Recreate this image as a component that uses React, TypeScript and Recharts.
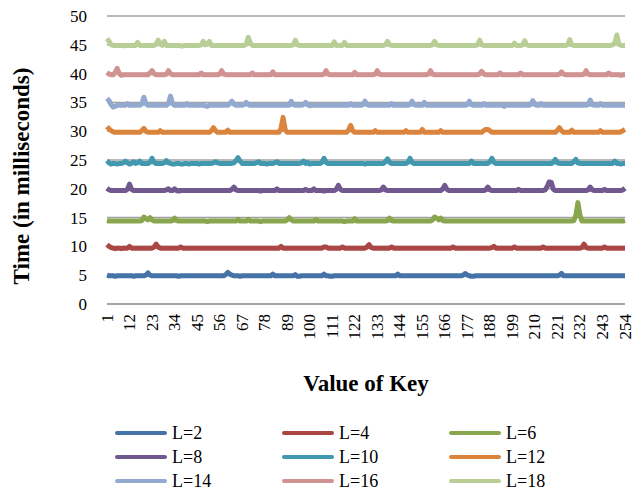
import { CartesianGrid, Label, Line, LineChart, XAxis, YAxis } from "recharts";

// x categories: value of key, 1..254
const KEYS: number[] = Array.from({ length: 254 }, (_, i) => i + 1);

const SERIES_NAMES = ["L=2", "L=4", "L=6", "L=8", "L=10", "L=12", "L=14", "L=16", "L=18"];

// 10 values per row (key 1-10, 11-20, ...)
const L2 = [
  5.0, 4.9, 4.9, 4.9, 4.8, 4.9, 4.9, 4.9, 4.9, 4.9,
  4.9, 4.9, 4.9, 4.8, 4.9, 4.9, 4.9, 4.9, 4.9, 5.0,
  5.4, 5.0, 4.9, 4.9, 4.9, 4.9, 4.9, 4.9, 4.9, 4.9,
  4.9, 4.9, 4.9, 4.9, 4.9, 4.8, 4.9, 4.9, 4.9, 4.9,
  4.9, 4.9, 4.9, 4.9, 4.9, 4.9, 4.9, 4.9, 4.9, 4.9,
  4.9, 4.9, 4.9, 4.9, 4.9, 4.9, 4.9, 4.9, 5.1, 5.5,
  5.2, 5.0, 4.9, 4.9, 4.9, 4.8, 4.9, 4.9, 4.9, 4.9,
  4.9, 4.9, 4.9, 4.9, 4.9, 4.9, 4.9, 4.9, 4.9, 4.9,
  4.9, 5.2, 4.9, 4.9, 4.9, 4.9, 4.9, 4.9, 4.9, 4.9,
  4.9, 4.9, 5.1, 4.8, 4.8, 4.9, 4.9, 4.9, 4.9, 4.9,
  4.9, 4.9, 4.9, 4.9, 4.9, 4.9, 5.2, 4.9, 4.9, 4.8,
  4.8, 4.9, 4.9, 4.9, 4.9, 4.9, 4.9, 4.9, 4.9, 4.9,
  4.9, 4.9, 4.9, 4.9, 4.9, 4.9, 4.9, 4.9, 4.9, 4.9,
  4.9, 4.9, 4.9, 4.9, 4.9, 4.9, 4.9, 4.9, 4.9, 4.9,
  4.9, 4.9, 5.2, 4.9, 4.9, 4.9, 4.9, 4.9, 4.9, 4.9,
  4.9, 4.9, 4.9, 4.9, 4.9, 4.9, 4.9, 4.9, 4.9, 4.9,
  4.9, 4.9, 4.9, 4.9, 4.9, 4.9, 4.9, 4.9, 4.9, 4.9,
  4.9, 4.9, 4.9, 4.9, 5.0, 5.3, 5.0, 4.9, 4.8, 4.8,
  4.9, 4.9, 4.9, 4.9, 4.9, 4.9, 4.9, 4.9, 4.9, 4.9,
  4.9, 4.9, 4.9, 4.9, 4.9, 4.9, 4.9, 4.9, 4.9, 4.9,
  4.9, 4.9, 4.9, 4.9, 4.9, 4.9, 4.9, 4.9, 4.9, 4.9,
  4.9, 4.9, 4.9, 4.9, 4.9, 4.9, 4.9, 4.9, 4.9, 4.9,
  4.9, 5.0, 5.3, 4.9, 4.9, 4.9, 4.9, 4.9, 4.9, 4.9,
  4.9, 4.9, 4.9, 4.9, 4.9, 4.9, 4.9, 4.9, 4.9, 4.9,
  4.9, 4.9, 4.9, 4.9, 4.9, 4.9, 4.9, 4.9, 4.9, 4.9,
  4.9, 4.9, 4.9, 4.9,
];

const L4 = [
  10.3, 10.0, 9.8, 9.7, 9.6, 9.7, 9.7, 9.6, 9.7, 9.7,
  9.7, 10.0, 9.7, 9.7, 9.7, 9.7, 9.7, 9.7, 9.7, 9.7,
  9.7, 9.7, 9.7, 9.9, 10.4, 9.9, 9.7, 9.7, 9.7, 9.7,
  9.7, 9.7, 9.7, 9.7, 9.7, 9.7, 9.9, 9.7, 9.7, 9.7,
  9.7, 9.7, 9.7, 9.7, 9.7, 9.7, 9.7, 9.7, 9.7, 9.7,
  9.7, 9.7, 9.7, 9.7, 9.7, 9.7, 9.7, 9.7, 9.7, 9.7,
  9.7, 9.7, 9.7, 9.7, 9.7, 9.7, 9.7, 9.7, 9.7, 9.7,
  9.7, 9.7, 9.7, 9.7, 9.7, 9.7, 9.7, 9.7, 9.7, 9.7,
  9.7, 9.7, 9.7, 9.7, 9.7, 10.0, 9.7, 9.7, 9.7, 9.7,
  9.7, 9.7, 9.7, 9.7, 9.7, 9.7, 9.7, 9.7, 9.7, 9.7,
  9.7, 9.7, 9.7, 9.7, 9.7, 9.7, 9.9, 9.9, 9.7, 9.7,
  9.7, 9.7, 9.7, 9.7, 9.7, 9.9, 9.7, 9.7, 9.7, 9.7,
  9.7, 9.7, 9.7, 9.7, 9.7, 9.7, 9.7, 9.9, 10.3, 9.8,
  9.7, 9.7, 9.7, 9.7, 9.7, 9.7, 9.7, 9.7, 9.7, 9.9,
  9.7, 9.7, 9.7, 9.7, 9.7, 9.7, 9.7, 9.7, 9.7, 9.7,
  9.7, 9.7, 9.7, 9.7, 9.7, 9.7, 9.7, 9.7, 9.7, 9.7,
  9.7, 9.7, 9.7, 9.7, 9.7, 9.7, 9.7, 9.7, 9.7, 9.9,
  9.7, 9.7, 9.7, 9.7, 9.7, 9.7, 9.7, 9.7, 9.7, 9.7,
  9.7, 9.7, 9.7, 9.7, 9.7, 9.7, 9.7, 9.7, 9.8, 10.0,
  9.7, 9.7, 9.7, 9.7, 9.7, 9.7, 9.7, 9.7, 9.7, 9.9,
  9.7, 9.7, 9.7, 9.7, 9.7, 9.7, 9.7, 9.7, 9.7, 9.7,
  9.7, 9.7, 9.7, 9.9, 9.7, 9.7, 9.7, 9.7, 9.7, 9.7,
  9.7, 9.7, 9.7, 9.7, 9.7, 9.7, 9.7, 9.7, 9.7, 9.7,
  9.7, 9.7, 9.8, 10.4, 9.8, 9.7, 9.7, 9.7, 9.7, 9.7,
  9.7, 9.7, 9.7, 9.9, 9.7, 9.7, 9.7, 9.7, 9.7, 9.7,
  9.7, 9.7, 9.7, 9.7,
];

const L6 = [
  14.5, 14.4, 14.4, 14.4, 14.4, 14.4, 14.4, 14.4, 14.4, 14.4,
  14.4, 14.4, 14.4, 14.4, 14.4, 14.4, 14.4, 14.5, 15.1, 14.8,
  14.6, 15.0, 14.6, 14.4, 14.4, 14.4, 14.4, 14.4, 14.4, 14.4,
  14.4, 14.4, 14.5, 14.9, 14.5, 14.4, 14.4, 14.4, 14.4, 14.4,
  14.4, 14.4, 14.4, 14.4, 14.4, 14.4, 14.4, 14.4, 14.4, 14.3,
  14.4, 14.4, 14.4, 14.4, 14.4, 14.4, 14.4, 14.4, 14.4, 14.4,
  14.4, 14.4, 14.4, 14.4, 14.7, 14.4, 14.4, 14.4, 14.4, 14.7,
  14.4, 14.4, 14.4, 14.4, 14.4, 14.3, 14.4, 14.4, 14.4, 14.4,
  14.4, 14.4, 14.4, 14.4, 14.4, 14.4, 14.4, 14.4, 14.6, 15.0,
  14.6, 14.4, 14.4, 14.4, 14.4, 14.4, 14.4, 14.4, 14.4, 14.4,
  14.4, 14.4, 14.7, 14.4, 14.4, 14.4, 14.4, 14.4, 14.4, 14.4,
  14.4, 14.4, 14.4, 14.4, 14.4, 14.4, 14.3, 14.4, 14.4, 14.4,
  14.4, 14.8, 14.4, 14.4, 14.4, 14.4, 14.4, 14.4, 14.4, 14.4,
  14.4, 14.4, 14.4, 14.4, 14.4, 14.4, 14.4, 14.5, 14.9, 14.5,
  14.4, 14.4, 14.4, 14.4, 14.4, 14.4, 14.4, 14.4, 14.4, 14.4,
  14.4, 14.4, 14.4, 14.4, 14.4, 14.4, 14.4, 14.4, 14.4, 14.6,
  15.1, 14.9, 14.6, 14.9, 14.5, 14.4, 14.4, 14.4, 14.4, 14.4,
  14.4, 14.4, 14.4, 14.4, 14.4, 14.4, 14.4, 14.4, 14.4, 14.4,
  14.4, 14.4, 14.4, 14.4, 14.4, 14.4, 14.4, 14.4, 14.4, 14.4,
  14.4, 14.4, 14.4, 14.4, 14.4, 14.4, 14.4, 14.4, 14.4, 14.4,
  14.4, 14.4, 14.4, 14.4, 14.4, 14.4, 14.4, 14.4, 14.4, 14.4,
  14.4, 14.4, 14.4, 14.4, 14.4, 14.4, 14.4, 14.4, 14.4, 14.4,
  14.4, 14.4, 14.4, 14.4, 14.4, 14.4, 14.4, 14.4, 14.5, 15.4,
  17.6, 15.4, 14.4, 14.4, 14.4, 14.4, 14.4, 14.4, 14.4, 14.4,
  14.4, 14.4, 14.4, 14.4, 14.4, 14.4, 14.4, 14.4, 14.4, 14.4,
  14.4, 14.4, 14.4, 14.5,
];

const L8 = [
  20.1, 19.8, 19.7, 19.7, 19.7, 19.7, 19.7, 19.7, 19.7, 19.7,
  19.9, 20.8, 19.9, 19.7, 19.7, 19.7, 19.7, 19.7, 19.7, 19.7,
  19.7, 19.7, 19.7, 19.7, 19.7, 19.7, 19.7, 19.7, 19.7, 19.8,
  20.0, 19.7, 19.7, 20.0, 19.7, 19.6, 19.7, 19.7, 19.7, 19.7,
  19.7, 19.7, 19.7, 19.7, 19.7, 19.7, 19.7, 19.7, 19.7, 19.7,
  19.7, 19.7, 19.7, 19.7, 19.7, 19.7, 19.7, 19.7, 19.7, 19.7,
  19.7, 19.9, 20.3, 19.8, 19.7, 19.7, 19.7, 19.7, 19.7, 19.7,
  19.7, 19.7, 19.7, 19.7, 19.7, 19.6, 19.7, 19.7, 19.7, 19.7,
  19.7, 19.7, 19.7, 20.0, 19.7, 19.7, 19.7, 19.7, 19.7, 19.7,
  19.7, 19.7, 19.7, 19.7, 19.7, 19.7, 19.7, 19.9, 19.7, 19.7,
  19.7, 20.0, 19.7, 19.7, 19.7, 19.7, 19.6, 19.7, 19.7, 19.7,
  19.7, 19.7, 19.9, 20.6, 19.9, 19.7, 19.7, 19.7, 19.7, 19.7,
  19.7, 19.7, 19.7, 19.7, 19.7, 19.7, 19.7, 19.7, 19.7, 19.7,
  19.7, 19.7, 19.7, 19.7, 19.8, 20.3, 19.8, 19.7, 19.7, 19.7,
  19.7, 19.7, 19.7, 19.7, 19.7, 19.7, 19.7, 19.7, 19.7, 19.7,
  19.7, 19.7, 19.7, 19.7, 19.7, 19.7, 19.7, 19.7, 19.7, 19.7,
  19.7, 19.7, 19.7, 19.7, 20.0, 20.6, 19.9, 19.7, 19.7, 19.7,
  19.7, 19.7, 19.7, 19.7, 19.7, 19.7, 19.7, 19.7, 19.7, 19.7,
  19.7, 19.7, 19.7, 19.7, 19.7, 19.8, 20.3, 19.8, 19.7, 19.7,
  19.7, 19.7, 19.7, 19.7, 19.7, 19.7, 19.7, 19.7, 19.7, 19.7,
  19.7, 19.9, 19.7, 19.7, 19.7, 19.7, 19.7, 19.7, 19.7, 19.7,
  19.7, 19.7, 19.7, 19.7, 19.8, 20.4, 21.2, 21.1, 19.9, 19.7,
  19.7, 19.7, 19.7, 19.7, 19.7, 19.7, 19.7, 19.7, 19.7, 19.7,
  19.7, 19.7, 19.7, 19.7, 19.7, 19.8, 20.3, 19.8, 19.7, 19.7,
  19.7, 19.7, 19.7, 19.9, 19.7, 19.7, 19.7, 19.7, 19.7, 19.7,
  19.7, 19.7, 19.8, 20.1,
];

const L10 = [
  24.9, 24.5, 24.3, 24.4, 24.4, 24.3, 24.4, 24.4, 24.5, 24.8,
  24.5, 24.3, 24.4, 24.7, 24.4, 24.5, 24.8, 24.4, 24.4, 24.4,
  24.4, 24.6, 25.3, 24.6, 24.4, 24.4, 24.4, 24.4, 24.5, 24.9,
  24.5, 24.4, 24.3, 24.3, 24.4, 24.4, 24.3, 24.3, 24.4, 24.4,
  24.3, 24.4, 24.4, 24.4, 24.4, 24.3, 24.4, 24.4, 24.4, 24.4,
  24.4, 24.4, 24.5, 24.7, 24.5, 24.4, 24.4, 24.4, 24.4, 24.4,
  24.4, 24.4, 24.5, 24.9, 25.4, 24.8, 24.4, 24.4, 24.4, 24.4,
  24.4, 24.4, 24.4, 24.5, 24.7, 24.4, 24.4, 24.4, 24.3, 24.4,
  24.4, 24.4, 24.5, 24.7, 24.4, 24.4, 24.4, 24.4, 24.4, 24.4,
  24.4, 24.4, 24.4, 24.4, 24.4, 24.5, 24.8, 24.4, 24.6, 24.3,
  24.4, 24.4, 24.4, 24.4, 24.4, 24.6, 25.3, 24.6, 24.4, 24.4,
  24.4, 24.4, 24.4, 24.4, 24.4, 24.4, 24.4, 24.4, 24.4, 24.4,
  24.4, 24.4, 24.4, 24.4, 24.4, 24.4, 24.3, 24.4, 24.4, 24.4,
  24.4, 24.4, 24.4, 24.4, 24.4, 24.4, 24.7, 25.2, 24.6, 24.4,
  24.4, 24.4, 24.4, 24.4, 24.4, 24.4, 24.4, 24.6, 25.3, 24.6,
  24.4, 24.4, 24.4, 24.4, 24.4, 24.4, 24.4, 24.4, 24.4, 24.4,
  24.4, 24.4, 24.4, 24.4, 24.4, 24.4, 24.4, 24.4, 24.4, 24.4,
  24.4, 24.4, 24.4, 24.4, 24.4, 24.4, 24.4, 24.4, 24.8, 24.4,
  24.4, 24.4, 24.4, 24.4, 24.4, 24.4, 24.4, 24.7, 25.3, 24.6,
  24.4, 24.4, 24.4, 24.4, 24.4, 24.4, 24.4, 24.4, 24.4, 24.4,
  24.4, 24.4, 24.4, 24.4, 24.4, 24.4, 24.4, 24.4, 24.4, 24.4,
  24.4, 24.4, 24.4, 24.4, 24.4, 24.4, 24.4, 24.4, 24.6, 25.1,
  24.5, 24.4, 24.4, 24.4, 24.4, 24.4, 24.4, 24.4, 24.7, 25.1,
  24.5, 24.4, 24.4, 24.4, 24.4, 24.4, 24.4, 24.4, 24.4, 24.4,
  24.4, 24.4, 24.4, 24.4, 24.4, 24.4, 24.4, 24.4, 24.8, 24.4,
  24.4, 24.3, 24.4, 24.4,
];

const L12 = [
  30.8, 30.4, 30.1, 29.9, 29.8, 29.8, 29.8, 29.8, 29.8, 29.8,
  29.8, 29.8, 29.8, 29.8, 29.8, 29.8, 29.8, 30.1, 30.5, 30.0,
  29.8, 29.8, 29.8, 29.8, 29.8, 29.8, 30.1, 29.8, 29.8, 29.8,
  29.8, 29.8, 29.8, 29.8, 29.8, 29.8, 29.8, 29.8, 29.8, 29.8,
  29.8, 29.8, 29.8, 29.8, 29.8, 29.8, 29.8, 29.8, 29.8, 29.8,
  29.8, 30.1, 30.6, 30.1, 29.8, 29.8, 29.8, 29.8, 29.8, 30.2,
  29.8, 29.8, 29.8, 29.8, 29.8, 29.8, 29.8, 29.8, 29.8, 29.8,
  29.8, 29.8, 29.8, 29.8, 29.8, 29.8, 29.8, 29.8, 29.8, 29.8,
  29.8, 29.8, 29.8, 29.8, 29.8, 30.5, 32.4, 30.3, 29.8, 29.8,
  29.8, 29.8, 29.8, 29.8, 29.8, 29.8, 29.8, 29.8, 29.8, 29.8,
  29.8, 29.8, 29.8, 29.8, 29.8, 29.8, 29.8, 29.8, 29.8, 29.8,
  29.8, 29.8, 29.8, 29.8, 29.8, 29.8, 29.8, 29.8, 30.2, 31.0,
  30.1, 29.8, 29.8, 29.8, 29.8, 29.8, 29.8, 29.8, 29.8, 29.8,
  29.8, 30.1, 29.8, 29.8, 29.8, 29.8, 29.8, 29.8, 29.8, 29.8,
  29.8, 29.8, 29.8, 29.8, 29.8, 29.8, 30.1, 29.8, 29.8, 29.8,
  29.8, 29.8, 29.8, 29.8, 30.3, 29.8, 29.8, 29.8, 29.8, 29.8,
  29.8, 29.8, 29.8, 30.1, 29.8, 29.8, 29.8, 29.8, 29.8, 29.8,
  29.8, 29.8, 29.8, 29.8, 29.8, 29.8, 29.8, 29.8, 29.8, 29.8,
  29.8, 29.8, 29.8, 29.8, 30.1, 30.3, 30.3, 30.1, 29.8, 29.8,
  29.8, 29.8, 29.8, 29.8, 29.8, 29.8, 29.8, 29.8, 29.8, 29.8,
  29.8, 29.8, 29.8, 29.8, 29.8, 29.8, 29.8, 29.8, 29.8, 29.8,
  29.8, 29.8, 29.8, 29.8, 29.8, 29.8, 29.8, 29.8, 29.8, 29.8,
  30.2, 30.6, 30.1, 29.8, 29.8, 29.8, 29.8, 30.2, 29.8, 29.8,
  29.8, 29.8, 29.8, 29.8, 29.8, 29.8, 29.8, 29.8, 29.8, 29.8,
  29.8, 30.1, 29.8, 29.8, 29.8, 29.8, 29.8, 29.8, 29.8, 29.8,
  29.8, 29.9, 30.1, 30.3,
];

const L14 = [
  35.7, 35.3, 34.6, 34.2, 34.3, 34.5, 34.5, 34.5, 34.5, 34.5,
  34.8, 34.5, 34.5, 34.5, 34.5, 34.5, 34.5, 34.7, 35.9, 34.8,
  34.5, 34.5, 34.5, 34.5, 34.5, 34.5, 34.5, 34.5, 34.5, 34.5,
  34.8, 36.1, 34.8, 34.5, 34.5, 34.5, 34.5, 34.5, 34.5, 34.8,
  34.5, 34.5, 34.5, 34.5, 34.5, 34.5, 34.5, 34.5, 34.4, 34.3,
  34.5, 34.5, 34.5, 34.5, 34.5, 34.5, 34.5, 34.5, 34.5, 34.5,
  34.8, 35.2, 34.7, 34.5, 34.5, 34.5, 34.5, 34.6, 35.0, 34.6,
  34.5, 34.5, 34.5, 34.5, 34.5, 34.5, 34.5, 34.5, 34.5, 34.5,
  34.5, 34.5, 34.5, 34.5, 34.5, 34.5, 34.5, 34.5, 34.5, 34.5,
  35.2, 34.6, 34.5, 34.5, 34.5, 34.5, 34.6, 35.0, 34.6, 34.4,
  34.5, 34.5, 34.5, 34.5, 34.5, 34.5, 34.5, 34.5, 34.5, 34.5,
  34.5, 34.5, 34.5, 34.5, 34.5, 34.5, 34.5, 34.5, 34.5, 34.8,
  34.5, 34.5, 34.5, 34.5, 34.5, 34.6, 35.2, 34.6, 34.5, 34.5,
  34.5, 34.5, 34.5, 34.5, 34.5, 34.5, 34.5, 34.5, 34.5, 34.8,
  34.5, 34.5, 34.5, 34.5, 34.5, 34.5, 34.5, 34.5, 34.6, 35.2,
  34.6, 34.5, 34.5, 34.5, 34.5, 35.0, 34.5, 34.5, 34.5, 34.5,
  34.5, 34.5, 34.5, 34.5, 34.5, 34.5, 34.5, 34.5, 34.5, 34.5,
  34.5, 34.5, 34.5, 34.5, 34.5, 34.5, 34.6, 35.2, 34.6, 34.5,
  34.5, 34.5, 34.5, 34.5, 34.8, 34.5, 34.5, 34.5, 34.5, 34.5,
  34.5, 34.5, 34.5, 34.5, 34.3, 34.5, 34.5, 34.5, 34.5, 34.5,
  34.5, 34.5, 34.5, 34.5, 34.5, 34.5, 34.5, 34.6, 35.3, 34.6,
  34.5, 34.5, 34.8, 34.5, 34.5, 34.5, 34.5, 34.5, 34.5, 34.5,
  34.5, 34.5, 34.5, 34.5, 34.5, 34.5, 34.5, 34.5, 34.5, 34.5,
  34.5, 34.5, 34.5, 34.5, 34.5, 34.6, 35.4, 34.6, 34.5, 34.5,
  34.5, 34.8, 34.5, 34.5, 34.5, 34.5, 34.5, 34.5, 34.5, 34.5,
  34.5, 34.5, 34.5, 34.5,
];

const L16 = [
  40.2, 39.9, 39.8, 39.8, 40.2, 40.9, 40.0, 39.7, 39.8, 39.8,
  39.8, 39.8, 39.8, 39.8, 39.8, 39.8, 39.8, 39.8, 39.8, 39.8,
  39.8, 40.1, 40.5, 40.0, 39.8, 39.8, 39.8, 39.8, 39.8, 39.9,
  40.5, 40.0, 39.8, 39.8, 39.8, 39.8, 39.8, 39.8, 39.8, 39.8,
  39.8, 39.8, 39.8, 39.8, 39.8, 39.8, 40.1, 39.8, 39.8, 39.8,
  39.8, 39.8, 39.8, 39.8, 39.8, 39.9, 40.5, 39.9, 39.8, 39.8,
  39.8, 39.8, 39.8, 39.8, 39.8, 39.8, 39.8, 39.8, 39.8, 39.8,
  39.8, 40.1, 39.8, 39.8, 39.8, 39.8, 39.8, 39.8, 39.8, 39.8,
  39.8, 40.3, 39.8, 39.8, 39.8, 39.8, 39.8, 39.8, 39.8, 39.8,
  39.8, 39.8, 39.8, 39.8, 39.8, 39.8, 39.8, 39.8, 39.8, 39.8,
  39.8, 39.8, 39.8, 39.8, 39.8, 39.8, 39.9, 40.5, 39.9, 39.8,
  39.8, 39.8, 39.8, 39.8, 39.8, 39.8, 39.8, 39.8, 39.8, 39.8,
  39.8, 40.2, 39.8, 39.8, 39.8, 39.8, 39.8, 39.8, 39.8, 39.8,
  39.8, 39.9, 40.5, 39.9, 39.8, 39.8, 39.8, 39.8, 39.8, 39.8,
  39.8, 39.8, 39.8, 39.8, 39.8, 39.8, 39.8, 39.8, 39.8, 39.8,
  39.8, 39.8, 39.8, 39.8, 39.8, 39.8, 39.8, 39.9, 40.5, 39.9,
  39.8, 39.8, 39.8, 39.8, 39.8, 39.8, 39.8, 39.8, 39.8, 39.8,
  39.8, 39.8, 39.8, 39.8, 39.8, 39.8, 39.8, 39.8, 39.8, 39.8,
  39.8, 39.8, 39.9, 40.4, 39.9, 39.8, 39.8, 39.8, 39.8, 39.8,
  39.8, 39.8, 40.1, 39.8, 39.8, 39.8, 39.8, 39.8, 39.8, 39.8,
  39.8, 39.8, 40.1, 39.8, 39.8, 39.8, 39.8, 39.8, 39.8, 39.8,
  39.8, 39.8, 39.8, 39.8, 39.8, 39.8, 39.8, 39.8, 39.8, 39.8,
  39.8, 39.9, 40.3, 39.9, 39.8, 39.8, 39.8, 39.8, 39.8, 39.8,
  39.8, 39.8, 39.8, 39.9, 40.5, 39.9, 39.8, 39.8, 39.8, 39.8,
  39.8, 39.8, 39.8, 39.8, 39.8, 40.1, 39.8, 39.8, 39.8, 39.8,
  39.8, 39.7, 39.8, 39.8,
];

const L18 = [
  46.1, 45.6, 45.0, 44.9, 44.9, 44.9, 44.9, 44.9, 44.8, 44.9,
  44.9, 44.9, 44.9, 44.9, 44.9, 45.4, 44.9, 44.9, 44.9, 44.9,
  44.9, 44.9, 44.9, 44.9, 45.1, 45.8, 45.1, 44.9, 45.6, 44.9,
  44.9, 44.9, 44.9, 44.9, 44.9, 44.9, 44.8, 44.8, 44.9, 44.9,
  44.9, 44.9, 44.9, 44.9, 44.9, 44.9, 45.0, 45.6, 45.0, 45.1,
  45.6, 44.9, 44.9, 44.9, 44.9, 44.9, 44.9, 44.9, 44.9, 44.9,
  44.9, 44.9, 44.9, 44.9, 44.9, 44.9, 44.9, 44.9, 45.1, 46.3,
  45.3, 44.9, 44.9, 44.9, 44.9, 44.9, 44.9, 44.9, 44.9, 44.9,
  44.9, 44.9, 44.9, 44.9, 44.9, 44.9, 44.9, 44.9, 44.9, 44.9,
  44.9, 45.0, 45.8, 45.0, 44.9, 44.9, 44.9, 44.9, 44.9, 44.9,
  44.9, 44.9, 44.9, 44.9, 44.9, 44.9, 44.9, 44.9, 44.9, 44.9,
  44.9, 45.5, 44.9, 44.9, 44.9, 44.9, 45.4, 44.9, 44.9, 44.9,
  44.9, 44.9, 44.9, 44.9, 44.9, 44.9, 44.9, 44.9, 44.9, 44.9,
  44.9, 44.9, 44.9, 44.9, 44.9, 44.9, 45.0, 45.6, 45.0, 44.9,
  44.9, 44.9, 44.9, 44.9, 44.9, 44.9, 44.9, 44.9, 44.9, 44.9,
  44.9, 44.9, 44.9, 44.9, 44.9, 44.9, 44.9, 44.9, 44.9, 45.0,
  45.6, 45.0, 44.9, 44.9, 44.9, 44.9, 44.9, 44.9, 44.9, 44.9,
  44.9, 44.9, 44.9, 44.9, 44.9, 44.9, 44.9, 44.9, 44.9, 44.9,
  44.9, 45.0, 45.8, 45.0, 44.9, 44.9, 44.9, 44.9, 44.9, 44.9,
  44.9, 44.9, 44.9, 44.9, 44.9, 44.9, 44.9, 44.9, 44.9, 45.3,
  44.9, 44.9, 44.9, 45.0, 45.7, 45.0, 44.9, 44.9, 44.9, 44.9,
  44.9, 44.9, 44.9, 44.9, 44.9, 44.9, 44.9, 44.9, 44.9, 44.9,
  44.9, 44.9, 44.9, 44.9, 44.9, 45.0, 45.9, 45.0, 44.9, 44.9,
  44.9, 44.9, 44.9, 44.9, 44.9, 44.9, 44.9, 44.9, 44.9, 44.9,
  44.9, 44.9, 44.9, 44.9, 44.9, 44.9, 44.9, 45.0, 45.3, 46.7,
  45.1, 44.9, 44.9, 44.9,
];

const SERIES_VALUES = [L2, L4, L6, L8, L10, L12, L14, L16, L18];

const COLORS = [
  "#4572a7",
  "#aa4643",
  "#89a54e",
  "#71588f",
  "#4198af",
  "#db843d",
  "#93a9cf",
  "#d19392",
  "#b9cd96",
];

const Y_TICKS = [0, 5, 10, 15, 20, 25, 30, 35, 40, 45, 50];

const FONT = '"Liberation Serif", "Times New Roman", serif';

const rows = KEYS.map((k, i) => {
  const row: Record<string, number> = { key: k };
  SERIES_NAMES.forEach((name, s) => {
    row[name] = SERIES_VALUES[s][i];
  });
  return row;
});

function KeyTick({ x, y, payload }: any) {
  return (
    <text
      x={x}
      y={y}
      transform={`rotate(-90 ${x} ${y})`}
      textAnchor="end"
      dominantBaseline="central"
      fontFamily={FONT}
      fontSize={17}
      fill="#000"
    >
      {payload.value}
    </text>
  );
}

export default function App() {
  return (
    <div
      style={{
        position: "absolute",
        left: 0,
        top: 0,
        width: 640,
        height: 490,
        background: "#fff",
        fontFamily: FONT,
      }}
    >
      <LineChart
        width={640}
        height={410}
        data={rows}
        margin={{ top: 16, right: 15, left: 0, bottom: 0 }}
      >
        <CartesianGrid vertical={false} stroke="#a0a0a0" strokeWidth={1.5} />
        <XAxis
          dataKey="key"
          interval={10}
          height={106}
          tickLine={false}
          axisLine={{ stroke: "#a0a0a0", strokeWidth: 1.5 }}
          tick={<KeyTick />}
          tickMargin={4}
        >
          <Label
            content={({ viewBox }: any) => (
              <text
                x={viewBox.x + viewBox.width / 2}
                y={391}
                textAnchor="middle"
                fontFamily={FONT}
                fontWeight="bold"
                fontSize={23}
                fill="#000"
              >
                Value of Key
              </text>
            )}
          />
        </XAxis>
        <YAxis
          width={107}
          domain={[0, 50]}
          ticks={Y_TICKS}
          axisLine={false}
          tickLine={false}
          tickMargin={14}
          tick={{ fontFamily: FONT, fontSize: 17, fill: "#000" }}
        >
          <Label
            content={() => (
              <text
                x={0}
                y={0}
                transform="translate(29 176) rotate(-90)"
                textAnchor="middle"
                fontFamily={FONT}
                fontWeight="bold"
                fontSize={23}
                fill="#000"
              >
                Time (in milliseconds)
              </text>
            )}
          />
        </YAxis>
        {SERIES_NAMES.map((name, s) => (
          <Line
            key={name}
            type="linear"
            dataKey={name}
            stroke={COLORS[s]}
            strokeWidth={5}
            strokeLinejoin="round"
            dot={false}
            isAnimationActive={false}
          />
        ))}
      </LineChart>

      {/* legend, three columns like the original */}
      <div
        style={{
          position: "absolute",
          left: 115,
          top: 421,
          display: "grid",
          gridTemplateColumns: "167px 167px 167px",
          fontFamily: FONT,
          fontSize: 18,
          lineHeight: "24px",
          color: "#000",
        }}
      >
        {SERIES_NAMES.map((name, s) => (
          <div key={name} style={{ display: "flex", alignItems: "center" }}>
            <span
              style={{
                display: "inline-block",
                width: 52,
                height: 4,
                borderRadius: 2,
                background: COLORS[s],
                marginRight: 5,
              }}
            />
            {name}
          </div>
        ))}
      </div>
    </div>
  );
}
